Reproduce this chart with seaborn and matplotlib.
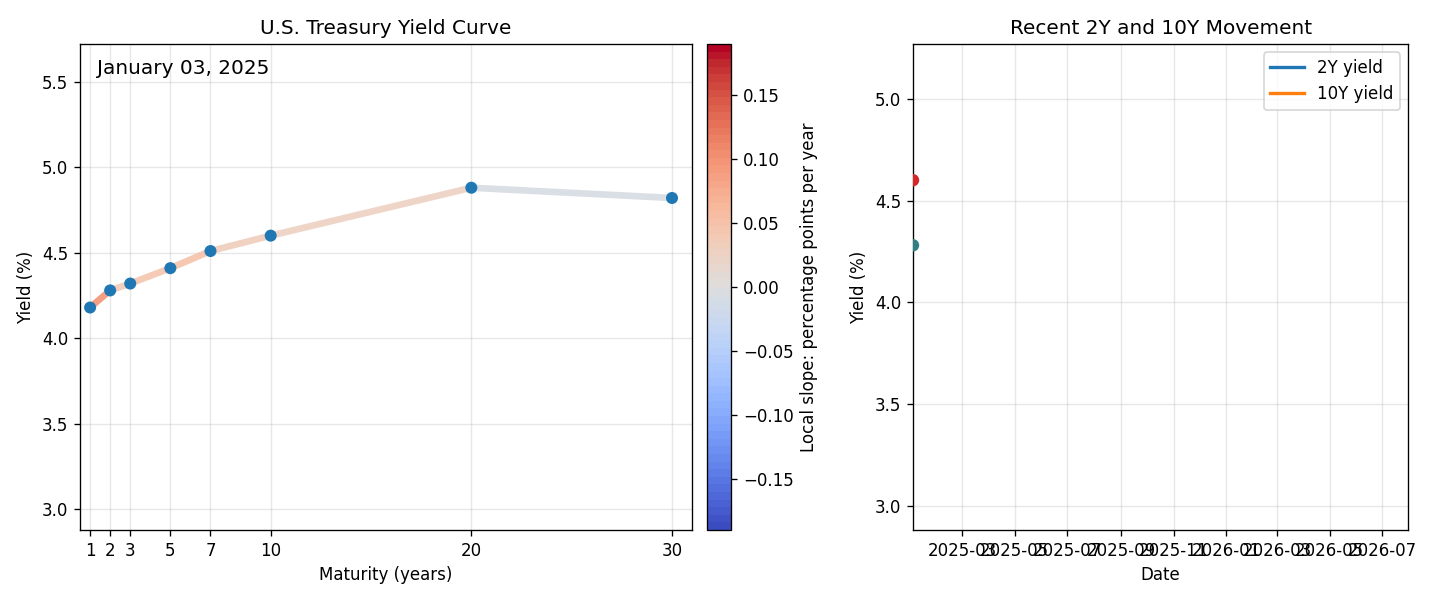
import numpy as np
import pandas as pd
import seaborn as sns
import matplotlib
matplotlib.use("Agg")
import matplotlib.pyplot as plt
from matplotlib.collections import LineCollection

# yield curve snapshot (first frame)
maturities = [1, 2, 3, 5, 7, 10, 20, 30]
yields = [4.18, 4.28, 4.32, 4.41, 4.51, 4.60, 4.88, 4.82]
curve_date = "January 03, 2025"

# recent 2Y / 10Y history shown so far
hist_dates = pd.to_datetime(["2025-01-03"])
hist_2y = [4.28]
hist_10y = [4.60]
window_start = pd.Timestamp("2025-01-03")
window_end = pd.Timestamp("2026-07-31")

slope_lim = 0.19


def main():
    plt.rcParams["font.family"] = ["DejaVu Sans"]
    fig = plt.figure(figsize=(12, 5), dpi=120)
    ax = fig.add_axes([0.0556, 0.1167, 0.425, 0.81])
    cax = fig.add_axes([0.491, 0.1167, 0.0167, 0.81])
    ax2 = fig.add_axes([0.634, 0.1167, 0.344, 0.81])

    df = pd.DataFrame({"maturity": maturities, "yield": yields})

    # colour each segment by its local slope
    x = df["maturity"].to_numpy(float)
    y = df["yield"].to_numpy(float)
    slopes = np.diff(y) / np.diff(x)
    segs = np.stack([np.column_stack([x[:-1], y[:-1]]), np.column_stack([x[1:], y[1:]])], axis=1)
    cmap = plt.get_cmap("coolwarm", 64)
    norm = plt.Normalize(-slope_lim, slope_lim)
    lc = LineCollection(segs, cmap=cmap, norm=norm, linewidth=4, alpha=0.9, zorder=2)
    lc.set_array(slopes)
    ax.add_collection(lc)

    sns.scatterplot(data=df, x="maturity", y="yield", ax=ax, s=52, color="C0",
                    edgecolor="none", zorder=3)

    ax.set_xlim(0.5, 31)
    ax.set_ylim(2.88, 5.72)
    ax.set_xticks(maturities)
    ax.set_xlabel("Maturity (years)")
    ax.set_ylabel("Yield (%)")
    ax.set_title("U.S. Treasury Yield Curve")
    ax.grid(True, alpha=0.3)
    ax.text(0.028, 0.97, curve_date, transform=ax.transAxes, fontsize=12, va="top")

    cb = fig.colorbar(lc, cax=cax)
    cb.set_label("Local slope: percentage points per year")
    cb.solids.set_alpha(1)

    hist = pd.DataFrame({"date": hist_dates, "2Y yield": hist_2y, "10Y yield": hist_10y})
    ax2.plot(hist["date"], hist["2Y yield"], color="C0", lw=2, label="2Y yield")
    ax2.plot(hist["date"], hist["10Y yield"], color="C1", lw=2, label="10Y yield")
    sns.scatterplot(x=hist["date"].iloc[-1:], y=hist["2Y yield"].iloc[-1:], ax=ax2,
                    color="#2f7f84", s=56, edgecolor="none", zorder=3)
    sns.scatterplot(x=hist["date"].iloc[-1:], y=hist["10Y yield"].iloc[-1:], ax=ax2,
                    color="#d62728", s=56, edgecolor="none", zorder=3)
    ax2.set_xlim(window_start, window_end)
    ax2.set_ylim(2.88, 5.27)
    ax2.set_xlabel("Date")
    ax2.set_ylabel("Yield (%)")
    ax2.set_title("Recent 2Y and 10Y Movement")
    ax2.grid(True, alpha=0.3)
    ax2.legend(loc="upper right")

    fig.savefig("out.png", dpi=120)


if __name__ == "__main__":
    main()
